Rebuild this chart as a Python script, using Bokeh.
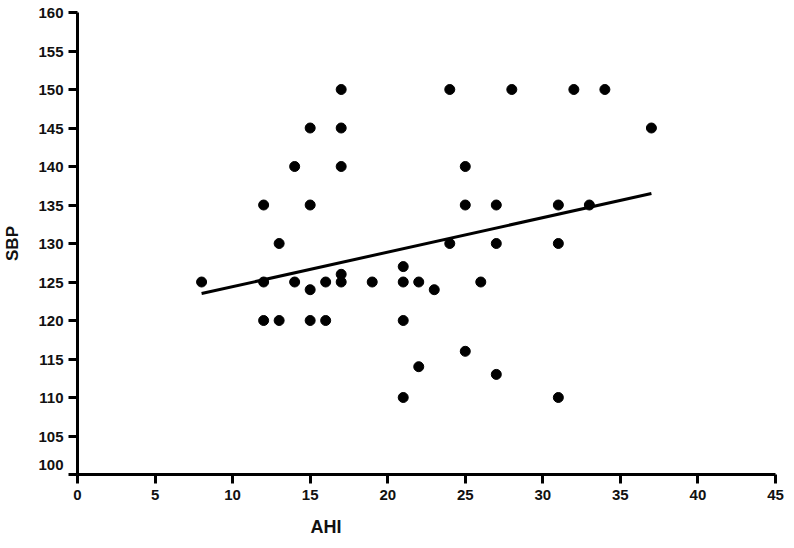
from bokeh.plotting import figure
from bokeh.models import Range1d, FixedTicker, ColumnDataSource, Title
from bokeh.embed import file_html
from bokeh.resources import INLINE

# Data
ahi = [8, 12, 12, 12, 13, 13, 14, 14, 15, 15, 15, 15, 16, 16,
       17, 17, 17, 17, 17, 19, 21, 21, 21, 21, 22, 22, 23,
       24, 24, 25, 25, 25, 26, 27, 27, 27, 28, 31, 31, 31, 32, 33, 34, 37]
sbp = [125, 135, 125, 120, 130, 120, 140, 125, 145, 135, 124, 120, 125, 120,
       150, 145, 140, 126, 125, 125, 127, 125, 120, 110, 125, 114, 124,
       150, 130, 140, 135, 116, 125, 135, 130, 113, 150, 135, 130, 110, 150, 135, 150, 145]

# regression line as drawn in the chart (end points)
fit_ahi = [8, 37]
fit_sbp = [123.5, 136.5]

x_ticks = [0, 5, 10, 15, 20, 25, 30, 35, 40, 45]
y_ticks = [100, 105, 110, 115, 120, 125, 130, 135, 140, 145, 150, 155, 160]

FONT = "Liberation Sans"
INK = "#111111"

p = figure(width=794, height=548, output_backend="svg", toolbar_location=None,
           x_range=Range1d(0, 45), y_range=Range1d(100, 160),
           min_border_left=76, min_border_right=19, min_border_top=12, min_border_bottom=20)
p.outline_line_color = None
p.grid.grid_line_color = None
p.background_fill_color = "white"

for ax in (p.xaxis[0], p.yaxis[0]):
    ax.axis_line_width = 3
    ax.axis_line_color = "black"
    ax.major_tick_line_width = 3
    ax.major_tick_line_color = "black"
    ax.major_tick_in = 0
    ax.major_tick_out = 9
    ax.minor_tick_line_color = None
    ax.major_label_text_font = FONT
    ax.major_label_text_font_style = "bold"
    ax.major_label_text_font_size = "15px"
    ax.major_label_text_color = INK

p.xaxis[0].ticker = FixedTicker(ticks=x_ticks)
p.yaxis[0].ticker = FixedTicker(ticks=y_ticks)
p.xaxis[0].major_label_standoff = 6
p.yaxis[0].major_label_standoff = 5
# the "100" label sits a little above the x axis in the original
p.yaxis[0].major_label_overrides = {100: "100\n "}

p.yaxis[0].axis_label = "SBP"
p.yaxis[0].axis_label_text_font = FONT
p.yaxis[0].axis_label_text_font_style = "bold"
p.yaxis[0].axis_label_text_font_size = "17px"
p.yaxis[0].axis_label_text_color = INK
p.yaxis[0].axis_label_standoff = 13

# x axis label, placed left of centre as in the original
p.add_layout(Title(text="AHI", align="left", offset=233, standoff=24,
                   text_font=FONT, text_font_style="bold", text_font_size="18px",
                   text_color=INK), "below")

src = ColumnDataSource(dict(x=ahi, y=sbp))
p.scatter("x", "y", source=src, size=10, fill_color="black", line_color="black")

p.line(fit_ahi, fit_sbp, line_width=3, line_color="black")

open("out.html", "w").write(file_html(p, INLINE))
